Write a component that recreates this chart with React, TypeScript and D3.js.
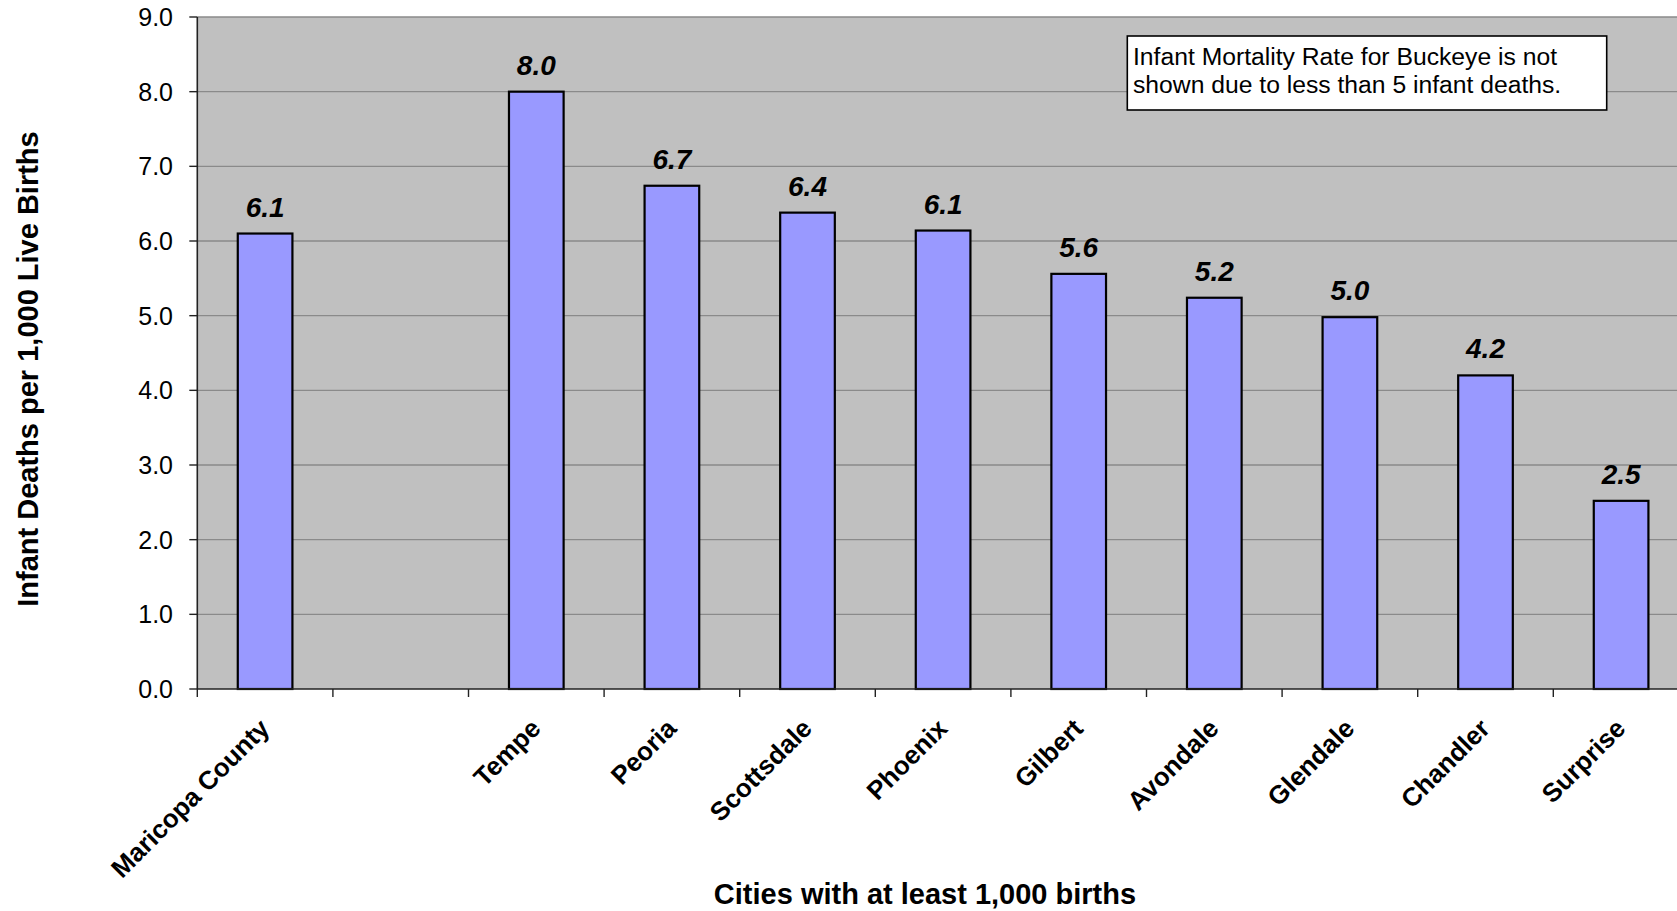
import React from "react";
import * as d3 from "d3";

const categories = ["Maricopa County", "", "Tempe", "Peoria", "Scottsdale", "Phoenix", "Gilbert", "Avondale", "Glendale", "Chandler", "Surprise"];
const rates: (number | null)[] = [6.1, null, 8.0, 6.74, 6.38, 6.14, 5.56, 5.24, 4.98, 4.2, 2.52];
const yTicks = [0, 1, 2, 3, 4, 5, 6, 7, 8, 9];
const yTitle = "Infant Deaths per 1,000 Live Births";
const xTitle = "Cities with at least 1,000 births";
const noteLines = ["Infant Mortality Rate for Buckeye is not", "shown due to less than 5 infant deaths."];

const W = 1677;
const H = 911;
const FONT = "'Liberation Sans', Arial, Helvetica, sans-serif";

export default function App() {
  const left = 197.3;
  const top = 17;
  const bottom = 689;
  const right = left + 135.6 * categories.length;

  const x = d3.scaleBand<string>().domain(categories).range([left, right]).paddingInner(0).paddingOuter(0);
  const y = d3.scaleLinear().domain([0, 9]).range([bottom, top]);
  const bw = x.bandwidth();
  const barW = bw * 0.403;

  return (
    <svg width={W} height={H} style={{ position: "absolute", left: 0, top: 0, background: "#fff" }} fontFamily={FONT}>
      <defs>
        <clipPath id="clipView">
          <rect x={0} y={0} width={W} height={H} />
        </clipPath>
      </defs>
      <g clipPath="url(#clipView)">
        {/* plot background */}
        <rect x={left} y={top} width={right - left} height={bottom - top} fill="#C0C0C0" />
        {/* gridlines */}
        {yTicks.filter((t) => t > 0).map((t) => (
          <line key={"g" + t} x1={left} x2={right} y1={y(t)} y2={y(t)} stroke="#8a8a8a" strokeWidth={1.3} />
        ))}
        {/* bars */}
        {categories.map((c, i) => {
          const v = rates[i];
          if (v == null) return null;
          const cx = (x(c) as number) + bw / 2;
          return (
            <rect key={"b" + i} x={cx - barW / 2} y={y(v)} width={barW} height={bottom - y(v)} fill="#9999FF" stroke="#000" strokeWidth={2.2} />
          );
        })}
        {/* value labels */}
        {categories.map((c, i) => {
          const v = rates[i];
          if (v == null) return null;
          const cx = (x(c) as number) + bw / 2;
          return (
            <text key={"v" + i} x={cx} y={y(v) - 17} textAnchor="middle" fontSize={28} fontWeight="bold" fontStyle="italic" fill="#000">
              {d3.format(".1f")(v)}
            </text>
          );
        })}
        {/* axes */}
        <line x1={left} x2={left} y1={top} y2={bottom} stroke="#222" strokeWidth={1.6} />
        <line x1={left} x2={right} y1={bottom} y2={bottom} stroke="#222" strokeWidth={1.6} />
        {yTicks.map((t) => (
          <g key={"yt" + t}>
            <line x1={left - 8} x2={left} y1={y(t)} y2={y(t)} stroke="#222" strokeWidth={1.4} />
            <text x={173} y={y(t)} dy="0.36em" textAnchor="end" fontSize={25} fill="#000">
              {d3.format(".1f")(t)}
            </text>
          </g>
        ))}
        {categories.map((c, i) => (
          <line key={"xt" + i} x1={x(c) as number} x2={x(c) as number} y1={bottom} y2={bottom + 8} stroke="#222" strokeWidth={1.4} />
        ))}
        {categories.map((c, i) => {
          const cx = (x(c) as number) + bw / 2;
          return (
            <text key={"xl" + i} transform={`translate(${cx + 6},${bottom + 41}) rotate(-45)`} textAnchor="end" fontSize={26} fontWeight="bold" fill="#000">
              {c}
            </text>
          );
        })}
        {/* note box */}
        <rect x={1127.3} y={36} width={479.4} height={74} fill="#fff" stroke="#000" strokeWidth={1.6} />
        {noteLines.map((l, i) => (
          <text key={"n" + i} x={1133} y={65 + i * 28} fontSize={24.7} fill="#000">
            {l}
          </text>
        ))}
        {/* axis titles */}
        <text transform={`translate(38,369) rotate(-90)`} textAnchor="middle" fontSize={29} fontWeight="bold" fill="#000">
          {yTitle}
        </text>
        <text x={925} y={904} textAnchor="middle" fontSize={29} fontWeight="bold" fill="#000">
          {xTitle}
        </text>
      </g>
    </svg>
  );
}
